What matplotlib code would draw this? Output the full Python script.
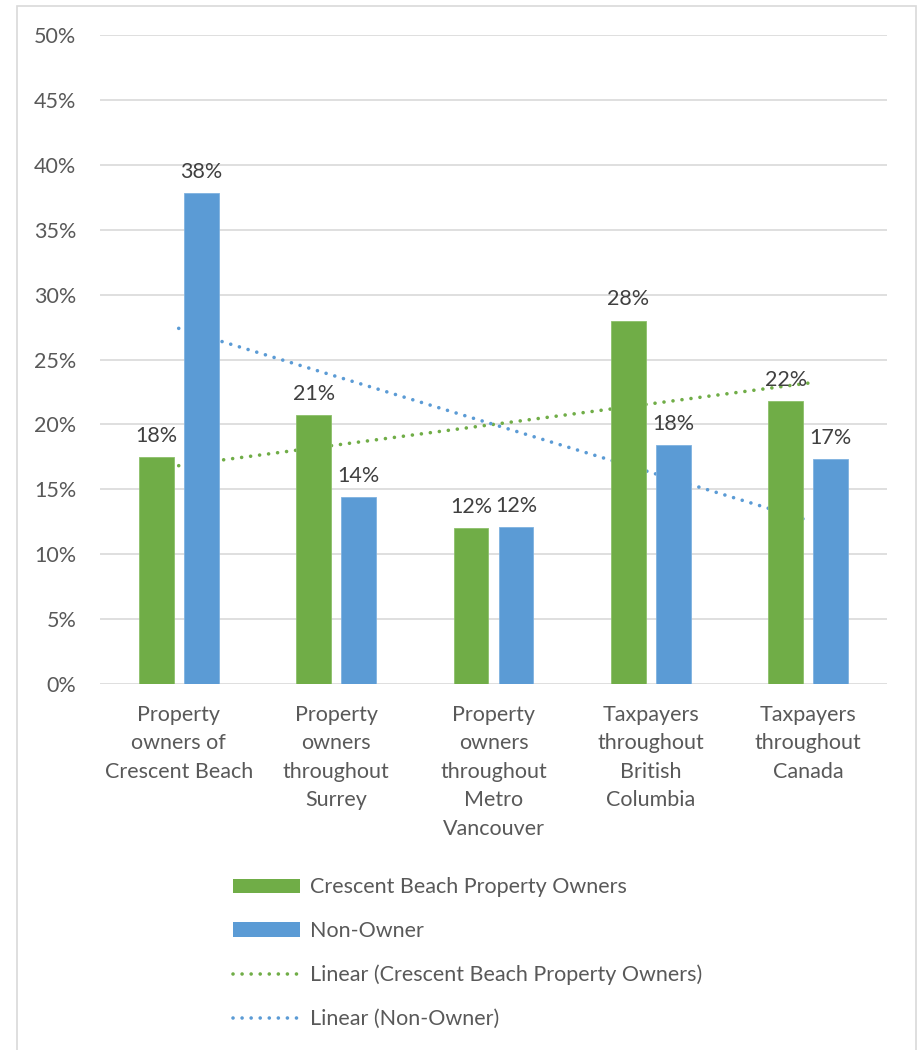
import numpy as np
import matplotlib.pyplot as plt
from matplotlib.patches import Patch, Rectangle
from matplotlib.lines import Line2D

categories = [
    "Property\nowners of\nCrescent Beach",
    "Property\nowners\nthroughout\nSurrey",
    "Property\nowners\nthroughout\nMetro\nVancouver",
    "Taxpayers\nthroughout\nBritish\nColumbia",
    "Taxpayers\nthroughout\nCanada",
]
owners = [17.5, 20.7, 12.0, 28.0, 21.8]
non_owners = [37.8, 14.4, 12.1, 18.4, 17.3]
owner_labels = ["18%", "21%", "12%", "28%", "22%"]
non_owner_labels = ["38%", "14%", "12%", "18%", "17%"]

GREEN = "#70AD47"
BLUE = "#5B9BD5"
GRID = "#D9D9D9"
TICK = "#595959"
LABEL = "#404040"
FS = 15.5

plt.rcParams["font.family"] = ["Lato", "DejaVu Sans"]

fig = plt.figure(figsize=(9.22, 10.5), dpi=100)
ax = fig.add_axes([100 / 922, 1 - 684 / 1050, 787 / 922, 649 / 1050])

# chart border
fig.patches.append(Rectangle((17 / 922, -0.1), 899 / 922, 1.1 - 6 / 1050,
                             transform=fig.transFigure, fill=False,
                             edgecolor=GRID, lw=1.2, zorder=0))

x = np.arange(len(categories))
w = 0.222
off = 0.143

ax.bar(x - off, owners, w, color=GREEN, edgecolor="#8cc06a", lw=0.6, zorder=3)
ax.bar(x + off, non_owners, w, color=BLUE, edgecolor="#7fb2e0", lw=0.6, zorder=3)

for xi, v, t in zip(x - off, owners, owner_labels):
    ax.annotate(t, (xi, v), xytext=(0, 8), textcoords="offset points",
                ha="center", va="bottom", fontsize=FS, color=LABEL)
for xi, v, t in zip(x + off, non_owners, non_owner_labels):
    ax.annotate(t, (xi, v), xytext=(0, 8), textcoords="offset points",
                ha="center", va="bottom", fontsize=FS, color=LABEL)

# linear trendlines (least squares over category index)
dot = (0, (0.01, 2.5))
for vals, c in [(owners, GREEN), (non_owners, BLUE)]:
    k, b = np.polyfit(x, vals, 1)
    ax.plot(x, k * x + b, color=c, lw=2.6, linestyle=dot,
            dash_capstyle="round", zorder=2)

ax.set_xlim(-0.5, 4.5)
ax.set_ylim(0, 50)
ax.set_yticks(range(0, 51, 5))
ax.set_yticklabels([f"{v}%" for v in range(0, 51, 5)])
ax.set_xticks(x)
ax.set_xticklabels(categories, linespacing=1.53)
ax.tick_params(axis="y", length=0, pad=17, labelsize=FS, labelcolor=TICK)
ax.tick_params(axis="x", length=0, pad=15, labelsize=FS, labelcolor=TICK)
ax.yaxis.grid(True, color=GRID, lw=1.2, zorder=0)
ax.set_axisbelow(True)
for s in ax.spines.values():
    s.set_visible(False)

handles = [
    Patch(facecolor=GREEN, edgecolor="none"),
    Patch(facecolor=BLUE, edgecolor="none"),
    Line2D([], [], color=GREEN, lw=2.6, linestyle=dot, dash_capstyle="round"),
    Line2D([], [], color=BLUE, lw=2.6, linestyle=dot, dash_capstyle="round"),
]
names = [
    "Crescent Beach Property Owners",
    "Non-Owner",
    "Linear (Crescent Beach Property Owners)",
    "Linear (Non-Owner)",
]
leg = fig.legend(handles, names, loc="upper left",
                 bbox_to_anchor=(214 / 922, 1 - 858 / 1050),
                 frameon=False, fontsize=FS, labelcolor=TICK,
                 handlelength=3.1, handleheight=0.65, handletextpad=0.45,
                 labelspacing=1.1)

fig.savefig("out.png", dpi=100)
